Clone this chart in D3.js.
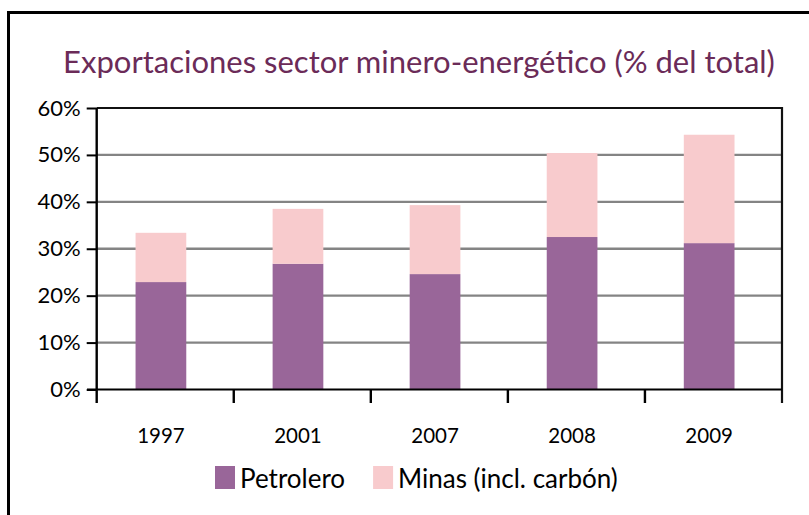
<!DOCTYPE html>
<html>
<head>
<meta charset="utf-8">
<script src="https://cdn.jsdelivr.net/npm/d3@7"></script>
<style>
  body { margin: 0; background: #fff; }
  svg { display: block; font-family: Lato, 'Open Sans', sans-serif; }
</style>
</head>
<body>
<svg class="chart"></svg>
<script>
const years = ['1997', '2001', '2007', '2008', '2009'];
const petrolero = [0.229, 0.268, 0.246, 0.325, 0.312];
const minas = [0.105, 0.117, 0.147, 0.179, 0.231];
const yTicks = [0, 0.1, 0.2, 0.3, 0.4, 0.5, 0.6];
const seriesNames = ['Petrolero', 'Minas (incl. carbón)'];
const seriesColors = ['#996699', '#f8cbcd'];

const width = 809;
const height = 515;

const svg = d3.select('svg.chart')
	.attr('width', width)
	.attr('height', height);

// outer frame, runs off the right and bottom edge
svg.append('rect')
	.attr('x', 8.5)
	.attr('y', 12.5)
	.attr('width', 840)
	.attr('height', 540)
	.attr('fill', 'none')
	.attr('stroke', '#000')
	.attr('stroke-width', 3);

svg.append('text')
	.attr('x', 419)
	.attr('y', 73)
	.attr('text-anchor', 'middle')
	.attr('fill', '#6b2b58')
	.attr('font-size', 31)
	.text('Exportaciones sector minero-energético (% del total)');

const plot = { left: 96.7, right: 782, top: 108, bottom: 389.5 };

const y = d3.scaleLinear()
	.domain([0, 0.6])
	.range([plot.bottom, plot.top]);

const xTick = d3.scaleBand()
	.domain(years)
	.range([plot.left, plot.right]);

const x = d3.scaleBand()
	.domain(years)
	.range([plot.left, plot.right])
	.paddingInner(0.63)
	.paddingOuter(0.315)
	.align(0.45);

// gridlines
svg.append('g')
	.selectAll('line')
	.data(yTicks.filter(d => d > 0 && d < 0.6))
	.enter().append('line')
		.attr('x1', plot.left)
		.attr('x2', plot.right)
		.attr('y1', d => y(d))
		.attr('y2', d => y(d))
		.attr('stroke', '#848484')
		.attr('stroke-width', 2.4);

// stacked bars
const rows = years.map((yr, i) => ({ year: yr, Petrolero: petrolero[i], Minas: minas[i] }));
const stacked = d3.stack().keys(['Petrolero', 'Minas'])(rows);

svg.append('g')
	.selectAll('g')
	.data(stacked)
	.enter().append('g')
		.attr('fill', (d, i) => seriesColors[i])
	.selectAll('rect')
	.data(d => d)
	.enter().append('rect')
		.attr('x', d => x(d.data.year))
		.attr('width', x.bandwidth())
		.attr('y', d => y(d[1]))
		.attr('height', d => y(d[0]) - y(d[1]));

// plot frame: top and right edges
svg.append('path')
	.attr('d', `M${plot.left},${plot.top}H${plot.right}V403`)
	.attr('fill', 'none')
	.attr('stroke', '#111')
	.attr('stroke-width', 2.2);

// y axis
const yAxis = svg.append('g')
	.attr('transform', `translate(${plot.left},0)`)
	.call(d3.axisLeft(y).tickValues(yTicks).tickFormat(d3.format('.0%')).tickSize(10).tickPadding(6));
yAxis.select('.domain').remove();
yAxis.selectAll('.tick line').attr('stroke', '#000').attr('stroke-width', 2);
yAxis.selectAll('.tick text')
	.attr('font-family', 'Lato, sans-serif')
	.attr('font-size', 22)
	.attr('fill', '#000');

svg.append('line')
	.attr('x1', plot.left).attr('x2', plot.left)
	.attr('y1', plot.top).attr('y2', 403)
	.attr('stroke', '#000')
	.attr('stroke-width', 2.4);

// x axis
svg.append('line')
	.attr('x1', 87).attr('x2', plot.right)
	.attr('y1', plot.bottom).attr('y2', plot.bottom)
	.attr('stroke', '#000')
	.attr('stroke-width', 2.2);

svg.append('g')
	.selectAll('line')
	.data(years.slice(1))
	.enter().append('line')
		.attr('x1', d => xTick(d)).attr('x2', d => xTick(d))
		.attr('y1', plot.bottom).attr('y2', 403)
		.attr('stroke', '#000')
		.attr('stroke-width', 2.4);

svg.append('g')
	.selectAll('text')
	.data(years)
	.enter().append('text')
		.attr('x', d => x(d) + x.bandwidth() / 2)
		.attr('y', 443)
		.attr('text-anchor', 'middle')
		.attr('font-size', 20.5)
		.attr('fill', '#000')
		.text(d => d);

// legend
const legend = svg.append('g')
	.attr('transform', 'translate(215,466)');

let lx = 0;
seriesNames.forEach((name, i) => {
	const item = legend.append('g').attr('transform', `translate(${lx},0)`);
	item.append('rect')
		.attr('width', 20)
		.attr('height', 23)
		.attr('fill', seriesColors[i]);
	const t = item.append('text')
		.attr('x', 25)
		.attr('y', 22)
		.attr('font-size', 26)
		.attr('fill', '#000')
		.text(name);
	lx += 25 + t.node().getComputedTextLength() + 28;
});
</script>
</body>
</html>
